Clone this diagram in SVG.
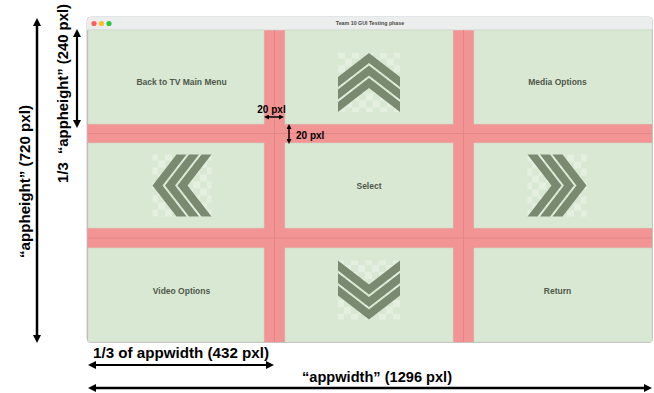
<svg xmlns="http://www.w3.org/2000/svg" width="654" height="393" viewBox="0 0 654 393">
<style>
.cell{fill:#d9e8d3;stroke:#c8d7c2;stroke-width:0.6}
.lbl{font-family:"Liberation Sans",Arial,sans-serif;font-weight:bold;font-size:8.5px;fill:#4f584b;text-anchor:middle}
.ann{font-family:"Liberation Sans",Arial,sans-serif;font-weight:bold;fill:#000}
.dim{stroke:#000;fill:none}
.mid{stroke:#e38686;stroke-width:1}
.chev{fill:#798a71}
</style>
<defs>
<pattern id="chk" x="-31" y="-31" width="14" height="14" patternUnits="userSpaceOnUse">
<rect x="0" y="0" width="7" height="7" fill="#e5efe0"/>
<rect x="7" y="7" width="7" height="7" fill="#e5efe0"/>
</pattern>
<g id="upIcon">
<rect x="-31" y="-29.5" width="62" height="59" fill="url(#chk)"/>
<polygon class="chev" points="0,-29.5 31,-5.5 31,4.5 0,-19.5 -31,4.5 -31,-5.5"/>
<polygon class="chev" points="0,-17 31,7 31,17 0,-7 -31,17 -31,7"/>
<polygon class="chev" points="0,-4.5 31,19.5 31,29.5 0,5.5 -31,29.5 -31,19.5"/>
</g>
<marker id="ahL" viewBox="0 0 10 10" refX="0" refY="5" markerWidth="8" markerHeight="8" markerUnits="userSpaceOnUse" orient="auto-start-reverse"><path d="M0,0 L10,5 L0,10 z" fill="#000"/></marker>
<marker id="ahS" viewBox="0 0 10 10" refX="0" refY="5" markerWidth="5" markerHeight="5" markerUnits="userSpaceOnUse" orient="auto-start-reverse"><path d="M0,0 L10,5 L0,10 z" fill="#000"/></marker>
</defs>
<rect width="654" height="393" fill="#fff"/>
<g id="window">
<rect x="87" y="17" width="565.5" height="325.5" rx="4" fill="#f29494" stroke="#b9c0c4" stroke-width="0.8"/>
<path d="M87,30 V21 Q87,17 91,17 H648.5 Q652.5,17 652.5,21 V30 Z" fill="#eceded"/>
<line x1="87" y1="30" x2="652.5" y2="30" stroke="#d4d8d6" stroke-width="0.6"/>
<circle cx="94" cy="23.5" r="2.6" fill="#ff5f57"/>
<circle cx="101.5" cy="23.5" r="2.6" fill="#febc2e"/>
<circle cx="109" cy="23.5" r="2.6" fill="#28c840"/>
<text x="370" y="25.3" font-family="'Liberation Sans',Arial,sans-serif" font-weight="bold" font-size="5.3" fill="#4a4a4a" text-anchor="middle">Team 10 GUI Testing phase</text>
<line class="mid" x1="274.5" y1="30" x2="274.5" y2="342"/>
<line class="mid" x1="463.5" y1="30" x2="463.5" y2="342"/>
<line class="mid" x1="88" y1="133.5" x2="652" y2="133.5"/>
<line class="mid" x1="88" y1="238" x2="652" y2="238"/>
</g>
<g id="cell-back"><rect class="cell" x="88" y="30" width="176" height="94"/><text class="lbl" x="181.5" y="85">Back to TV Main Menu</text></g>
<g id="cell-up"><rect class="cell" x="285" y="30" width="168" height="94"/><use href="#upIcon" transform="translate(369,82.5)"/></g>
<g id="cell-media"><rect class="cell" x="474" y="30" width="178" height="94"/><text class="lbl" x="557.5" y="85">Media Options</text></g>
<g id="cell-left"><rect class="cell" x="88" y="143" width="176" height="85"/><use href="#upIcon" transform="translate(182,185.5) rotate(-90)"/></g>
<g id="cell-select"><rect class="cell" x="285" y="143" width="168" height="85"/><text class="lbl" x="369" y="189">Select</text></g>
<g id="cell-right"><rect class="cell" x="474" y="143" width="178" height="85"/><use href="#upIcon" transform="translate(557,185.5) rotate(90)"/></g>
<g id="cell-video"><rect class="cell" x="88" y="248" width="176" height="94"/><text class="lbl" x="181.5" y="294">Video Options</text></g>
<g id="cell-down"><rect class="cell" x="285" y="248" width="168" height="94"/><use href="#upIcon" transform="translate(369,290) rotate(180)"/></g>
<g id="cell-return"><rect class="cell" x="474" y="248" width="178" height="94"/><text class="lbl" x="557.5" y="294">Return</text></g>
<g id="connectors">
<line class="dim" x1="37" y1="26" x2="37" y2="335" stroke-width="2.5" marker-start="url(#ahL)" marker-end="url(#ahL)"/>
<line class="dim" x1="77" y1="37" x2="77" y2="120" stroke-width="2.2" marker-start="url(#ahL)" marker-end="url(#ahL)"/>
<line class="dim" x1="96" y1="365" x2="266" y2="365" stroke-width="2.2" marker-start="url(#ahL)" marker-end="url(#ahL)"/>
<line class="dim" x1="96" y1="388" x2="644" y2="388" stroke-width="2.5" marker-start="url(#ahL)" marker-end="url(#ahL)"/>
<line class="dim" x1="269" y1="117" x2="279" y2="117" stroke-width="1.5" marker-start="url(#ahS)" marker-end="url(#ahS)"/>
<line class="dim" x1="289" y1="129" x2="289" y2="139" stroke-width="1.5" marker-start="url(#ahS)" marker-end="url(#ahS)"/>
</g>
<g id="labels">
<text class="ann" font-size="15" text-anchor="middle" transform="translate(30,181.5) rotate(-90)" textLength="153" lengthAdjust="spacingAndGlyphs">“appheight” (720 pxl)</text>
<text class="ann" font-size="15" text-anchor="middle" xml:space="preserve" transform="translate(68,93.5) rotate(-90)" textLength="179" lengthAdjust="spacingAndGlyphs">1/3  “appheight” (240 pxl)</text>
<text class="ann" font-size="15" x="181" y="358" text-anchor="middle" textLength="176" lengthAdjust="spacingAndGlyphs">1/3 of appwidth (432 pxl)</text>
<text class="ann" font-size="15" x="377" y="382" text-anchor="middle" textLength="150" lengthAdjust="spacingAndGlyphs">“appwidth” (1296 pxl)</text>
<text class="ann" font-size="10" x="271.5" y="113" text-anchor="middle">20 pxl</text>
<text class="ann" font-size="10" x="296" y="138.5">20 pxl</text>
</g>
</svg>
